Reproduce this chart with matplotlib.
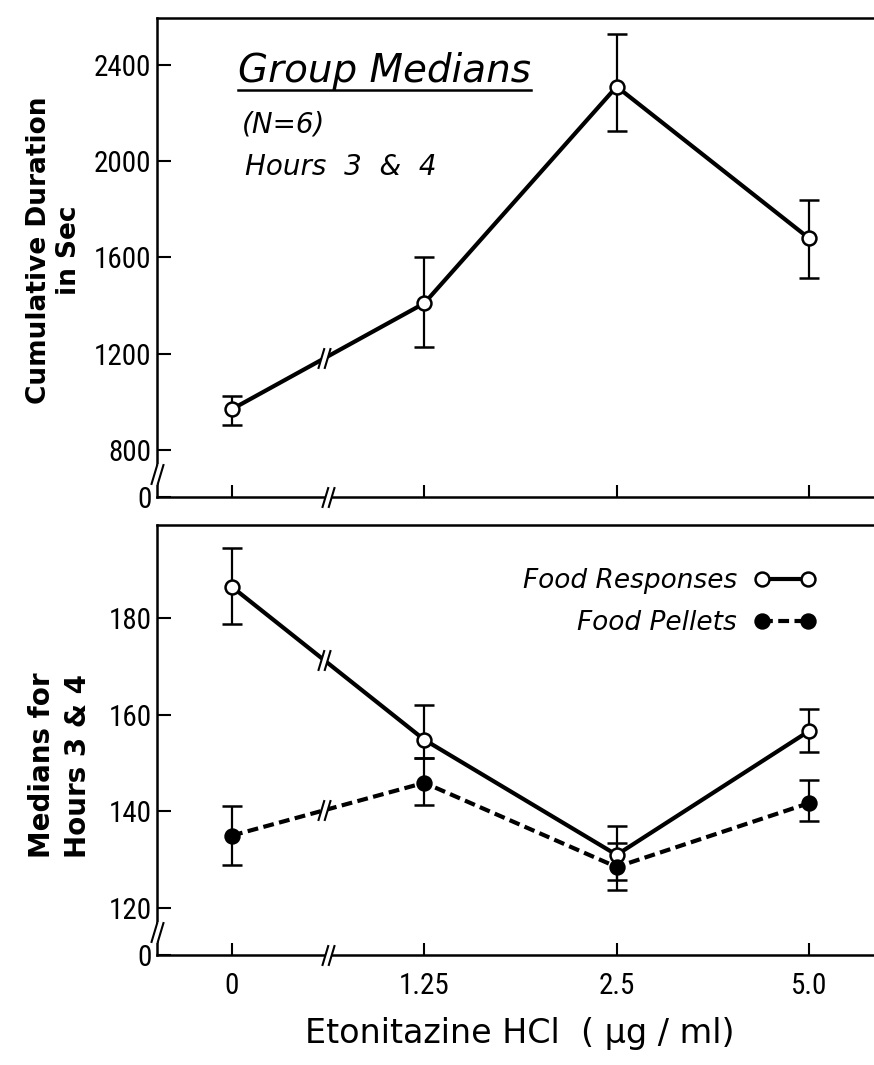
import numpy as np
import matplotlib
matplotlib.use('Agg')
import matplotlib.pyplot as plt
from matplotlib.path import Path
from matplotlib.lines import Line2D
from matplotlib import font_manager

# 数据
doses = ['0', '1.25', '2.5', '5.0']

duration_median = [970, 1410, 2310, 1680]
duration_low = [905, 1228, 2126, 1515]
duration_high = [1025, 1602, 2530, 1840]

resp_median = [186.4, 154.8, 131.0, 156.6]
resp_low = [178.8, 151.0, 125.8, 152.3]
resp_high = [194.5, 162.0, 137.0, 161.2]

pellet_median = [135.0, 145.9, 128.5, 141.7]
pellet_low = [129.0, 141.3, 123.8, 138.0]
pellet_high = [141.1, 151.0, 133.5, 146.5]

top_ticks = [800, 1200, 1600, 2000, 2400]
bot_ticks = [120, 140, 160, 180]

W, H = 874, 1065


def px(x, y):
    return x / W, 1 - y / H


# 窄体字体 (刻度标签)
names = {f.name for f in font_manager.fontManager.ttflist}
tick_fp = font_manager.FontProperties(family='DejaVu Sans', size=15)
for cand in ['Liberation Sans Narrow', 'Roboto Condensed', 'Open Sans Condensed']:
    if cand in names:
        tick_fp = font_manager.FontProperties(family=cand, size=21)
        break
else:
    if any(f.name == 'DejaVu Sans' and f.stretch == 'condensed' for f in font_manager.fontManager.ttflist):
        tick_fp = font_manager.FontProperties(family='DejaVu Sans', stretch='condensed', size=18)

# 断轴符号
SLASH = Path([(-0.6, -1), (0, 1), (0, -1), (0.6, 1)],
             [Path.MOVETO, Path.LINETO, Path.MOVETO, Path.LINETO])
GAP = Path([(-0.6, -1), (0, -1), (0.6, 1), (0, 1), (-0.6, -1)],
           [Path.MOVETO, Path.LINETO, Path.LINETO, Path.LINETO, Path.CLOSEPOLY])


def break_mark(ax, x, y, transform, size=15):
    kw = dict(transform=transform, clip_on=False, zorder=6, linestyle='none')
    ax.plot([x], [y], marker=GAP, ms=size, mfc='white', mec='white', mew=0, **kw)
    ax.plot([x], [y], marker=SLASH, ms=size, mfc='none', mec='black', mew=1.5, **kw)


def line_break(ax, vals, t=0.48):
    y = vals[0] + (vals[1] - vals[0]) * t
    break_mark(ax, t, y, ax.transData)


fig = plt.figure(figsize=(W / 100, H / 100), dpi=100)
ax1 = fig.add_axes([157 / W, 1 - 497 / H, 717 / W, (497 - 18) / H])
ax2 = fig.add_axes([157 / W, 1 - 955 / H, 717 / W, (955 - 525) / H])

x = np.arange(len(doses))
err_kw = dict(color='black', lw=3.0, ecolor='black', elinewidth=1.6,
              capsize=7, capthick=1.6, ms=10, mew=1.8, mec='black', zorder=3)


def yerr(med, low, high):
    med = np.array(med)
    return [med - np.array(low), np.array(high) - med]


# 上图
ax1.errorbar(x, duration_median, yerr=yerr(duration_median, duration_low, duration_high),
             fmt='-o', mfc='white', **err_kw)
line_break(ax1, duration_median)

y0_top = 605
ax1.set_ylim(y0_top, 2595)
ax1.set_yticks([y0_top] + top_ticks)
ax1.set_yticklabels(['0'] + [str(v) for v in top_ticks], fontproperties=tick_fp)
break_mark(ax1, 0, (y0_top + top_ticks[0]) / 2, ax1.get_yaxis_transform())

# 下图
eb_r = ax2.errorbar(x, resp_median, yerr=yerr(resp_median, resp_low, resp_high),
                    fmt='-o', mfc='white', **err_kw)
eb_p = ax2.errorbar(x, pellet_median, yerr=yerr(pellet_median, pellet_low, pellet_high),
                    fmt='o', mfc='black', ls=(0, (2.6, 1.3)), **err_kw)
line_break(ax2, resp_median)
line_break(ax2, pellet_median)

y0_bot = 110.3
ax2.set_ylim(y0_bot, 199.2)
ax2.set_yticks([y0_bot] + bot_ticks)
ax2.set_yticklabels(['0'] + [str(v) for v in bot_ticks], fontproperties=tick_fp)
break_mark(ax2, 0, (y0_bot + bot_ticks[0]) / 2, ax2.get_yaxis_transform())

for ax in (ax1, ax2):
    ax.set_xlim(-0.39, 3.338)
    ax.set_xticks(x)
    ax.spines['right'].set_visible(False)
    for s in ('left', 'bottom', 'top'):
        ax.spines[s].set_linewidth(1.8)
    ax.tick_params(axis='y', direction='in', length=10, width=1.5, pad=4)
    ax.tick_params(axis='x', direction='in', length=9, width=1.5, pad=12)
    break_mark(ax, 0.5, 0, ax.get_xaxis_transform())

ax1.tick_params(axis='x', labelbottom=False)
ax2.set_xticklabels(doses, fontproperties=tick_fp)

# 图例 (文字在左, 符号在右)
ax2.legend([eb_r.lines[0], eb_p.lines[0]], ['Food Responses', 'Food Pellets'],
           markerfirst=False, frameon=False, loc='upper right', numpoints=2,
           bbox_to_anchor=px(816, 568), bbox_transform=fig.transFigure,
           borderpad=0, borderaxespad=0, handlelength=2.35, handletextpad=0.65,
           labelspacing=0.6, prop={'style': 'italic', 'size': 19})

# 标题文字
title = fig.text(*px(238, 82), 'Group Medians', fontsize=28, style='italic',
                 ha='left', va='baseline')
fig.text(*px(242, 132), '(N=6)', fontsize=20, style='italic', ha='left', va='baseline')
fig.text(*px(245, 175), 'Hours  3  &  4', fontsize=20, style='italic', ha='left', va='baseline')

fig.canvas.draw()
bb = title.get_window_extent(fig.canvas.get_renderer())
fig.add_artist(Line2D([bb.x0 / W, bb.x1 / W], [1 - 90 / H, 1 - 90 / H],
                      transform=fig.transFigure, color='black', lw=1.8))

# 轴标题
fig.text(*px(54, 250), 'Cumulative Duration\nin Sec', rotation=90, ha='center', va='center',
         fontsize=19, fontweight='bold', linespacing=1.15)
fig.text(*px(60, 858), 'Medians for\nHours 3 & 4', rotation=90, ha='center', va='bottom',
         multialignment='left', fontsize=20, fontweight='bold', linespacing=1.35)
fig.text(*px(520, 1034), 'Etonitazine HCl  ( µg / ml)', fontsize=24, ha='center', va='center')

plt.savefig('out.png', dpi=100)
print('saved: out.png')
